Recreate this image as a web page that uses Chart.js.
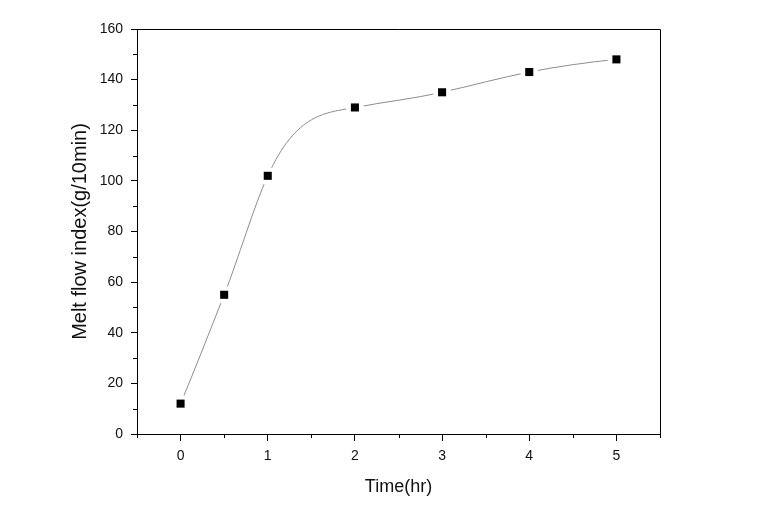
<!DOCTYPE html>
<html>
<head>
<meta charset="utf-8">
<script src="https://cdn.jsdelivr.net/npm/chart.js@4/dist/chart.umd.min.js"></script>
<style>
  body { margin: 0; background: #fff; }
  #wrap { width: 767px; height: 508px; }
</style>
</head>
<body>
<div id="wrap"><canvas id="myChart"></canvas></div>
<script>
// data
const time = [0, 0.5, 1, 2, 3, 4, 5];
const mfi = [12, 55, 102, 129, 135, 143, 148];
const xTicks = [0, 1, 2, 3, 4, 5];
const xMinor = [-0.5, 0.5, 1.5, 2.5, 3.5, 4.5, 5.5];
const yMinor = [10, 30, 50, 70, 90, 110, 130, 150];

const points = time.map((t, i) => ({ x: t, y: mfi[i] }));

// akima slopes, like the spline connect of the original plot
function akimaSlopes(xs, ys) {
  const n = xs.length;
  const m = [];
  for (let i = 0; i < n - 1; i++) m.push((ys[i + 1] - ys[i]) / (xs[i + 1] - xs[i]));
  const ext = [3 * m[0] - 2 * m[1], 2 * m[0] - m[1]].concat(m, [
    2 * m[n - 2] - m[n - 3],
    3 * m[n - 2] - 2 * m[n - 3],
  ]);
  const s = [];
  for (let i = 0; i < n; i++) {
    const a = ext[i], b = ext[i + 1], c = ext[i + 2], d = ext[i + 3];
    const w1 = Math.abs(d - c), w2 = Math.abs(b - a);
    s.push(w1 + w2 === 0 ? (b + c) / 2 : (w1 * b + w2 * c) / (w1 + w2));
  }
  return s;
}

const akima = {
  id: "akima",
  beforeDatasetDraw(chart, args) {
    if (args.index !== 2) return;
    const meta = args.meta;
    const line = meta.dataset;
    const pts = meta.data;
    const xs = chart.scales.x, ys = chart.scales.y;
    const s = akimaSlopes(time, mfi);
    for (let i = 0; i < pts.length; i++) {
      const hl = i > 0 ? (time[i] - time[i - 1]) / 3 : 0;
      const hr = i < pts.length - 1 ? (time[i + 1] - time[i]) / 3 : 0;
      pts[i].cp1x = xs.getPixelForValue(time[i] - hl);
      pts[i].cp1y = ys.getPixelForValue(mfi[i] - s[i] * hl);
      pts[i].cp2x = xs.getPixelForValue(time[i] + hr);
      pts[i].cp2y = ys.getPixelForValue(mfi[i] + s[i] * hr);
    }
    line._pointsUpdated = true;
    line._path = undefined;
  },
};

// minor ticks + top/right frame
const frame = {
  id: "frame",
  afterDraw(chart) {
    const { ctx, chartArea: a, scales } = chart;
    ctx.save();
    ctx.strokeStyle = "#000";
    ctx.lineWidth = 1;
    ctx.beginPath();
    ctx.moveTo(a.left, a.top + 0.5);
    ctx.lineTo(a.right + 0.5, a.top + 0.5);
    ctx.lineTo(a.right + 0.5, a.bottom);
    xMinor.forEach((v) => {
      const px = Math.round(scales.x.getPixelForValue(v)) + 0.5;
      ctx.moveTo(px, a.bottom);
      ctx.lineTo(px, a.bottom + 4);
    });
    yMinor.forEach((v) => {
      const py = Math.round(scales.y.getPixelForValue(v)) + 0.5;
      ctx.moveTo(a.left, py);
      ctx.lineTo(a.left - 4, py);
    });
    ctx.stroke();
    ctx.restore();
  },
};

const ctx = document.getElementById("myChart").getContext("2d");
const myChart = new Chart(ctx, {
  type: "scatter",
  data: {
    datasets: [
      {
        label: "marker",
        data: points,
        pointStyle: "rect",
        pointRadius: 5.7,
        pointBorderWidth: 0,
        backgroundColor: "#000",
        borderColor: "#000",
        showLine: false,
      },
      {
        // white gap round each marker
        label: "halo",
        data: points,
        pointStyle: "circle",
        pointRadius: 9,
        pointBorderWidth: 0,
        backgroundColor: "#fff",
        borderColor: "#fff",
        showLine: false,
      },
      {
        label: "curve",
        data: points,
        showLine: true,
        borderColor: "#8c8c8c",
        borderWidth: 1,
        pointRadius: 0,
        cubicInterpolationMode: "monotone",
      },
    ],
  },
  options: {
    responsive: true,
    maintainAspectRatio: false,
    animation: false,
    layout: { padding: { left: 68, right: 107, top: 29, bottom: 8 } },
    plugins: { legend: { display: false }, tooltip: { enabled: false } },
    scales: {
      x: {
        type: "linear",
        min: -0.5,
        max: 5.5,
        afterBuildTicks: (scale) => {
          scale.ticks = xTicks.map((v) => ({ value: v }));
        },
        afterFit: (scale) => {
          scale.height = 66;
        },
        grid: {
          drawOnChartArea: false,
          tickLength: 7,
          tickColor: "#000",
        },
        border: { color: "#000", width: 1 },
        ticks: {
          padding: 7,
          color: "#111",
          font: { family: "'Liberation Sans', Arial", size: 14 },
        },
        title: {
          display: true,
          text: "Time(hr)",
          color: "#111",
          padding: { top: 0, bottom: 2 },
          font: { family: "'Liberation Sans', Arial", size: 18 },
        },
      },
      y: {
        min: 0,
        max: 160,
        afterFit: (scale) => {
          scale.width = 69;
        },
        grid: {
          drawOnChartArea: false,
          tickLength: 6,
          tickColor: "#000",
        },
        border: { color: "#000", width: 1 },
        ticks: {
          stepSize: 20,
          padding: 8,
          color: "#111",
          font: { family: "'Liberation Sans', Arial", size: 14 },
        },
        title: {
          display: true,
          text: "Melt flow index(g/10min)",
          color: "#111",
          padding: { top: 0, bottom: 0 },
          font: { family: "'Liberation Sans', Arial", size: 20 },
        },
      },
    },
  },
  plugins: [akima, frame],
});
</script>
</body>
</html>
